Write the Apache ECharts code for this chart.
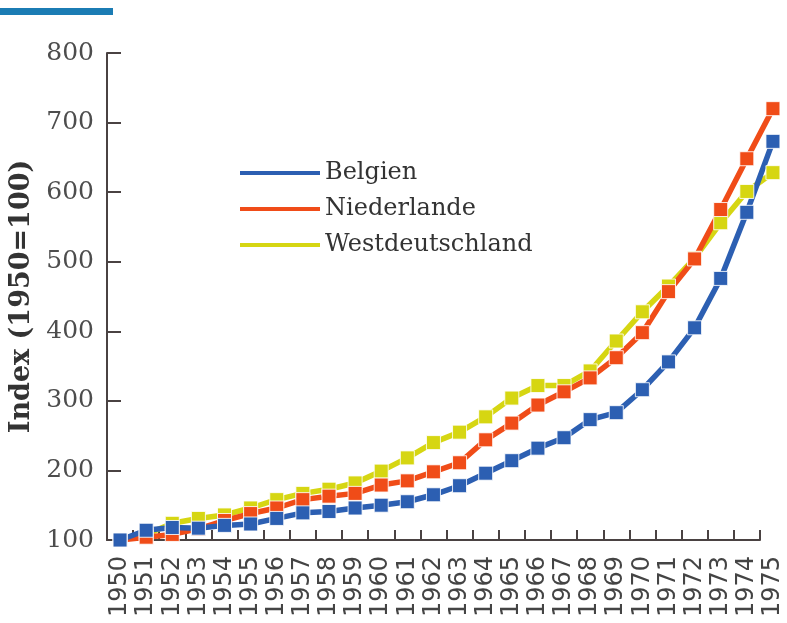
<!DOCTYPE html>
<html>
<head>
<meta charset="utf-8">
<script src="https://cdn.jsdelivr.net/npm/echarts@6/dist/echarts.min.js"></script>
<style>
html,body{margin:0;padding:0;background:#fff;}
#chart{width:787px;height:623px;}
</style>
</head>
<body>
<div id="chart"></div>
<script>
var years = ['1950','1951','1952','1953','1954','1955','1956','1957','1958','1959','1960','1961','1962','1963','1964','1965','1966','1967','1968','1969','1970','1971','1972','1973','1974','1975'];
var belgien = [100, 114, 118, 117, 121, 123, 131, 139, 141, 146, 150, 155, 165, 178, 196, 214, 232, 247, 273, 283, 316, 356, 405, 476, 571, 673];
var niederlande = [100, 104, 108, 116, 128, 138, 146, 158, 163, 167, 179, 185, 198, 211, 244, 268, 294, 313, 333, 362, 398, 457, 504, 575, 648, 720];
var westdeutschland = [100, 108, 124, 131, 136, 146, 158, 167, 173, 182, 199, 218, 240, 255, 277, 304, 322, 322, 343, 386, 428, 465, 505, 556, 601, 628];
var seriesNames = ['Belgien', 'Niederlande', 'Westdeutschland'];
var yTicks = {min: 100, max: 800, interval: 100};
var yTitle = 'Index (1950=100)';

var colors = {Belgien: '#2c5fb2', Niederlande: '#f04c18', Westdeutschland: '#d6d612'};
var axisColor = '#4a4242';

function mkSeries(name, data) {
  return {
    name: name,
    type: 'line',
    xAxisIndex: 0,
    yAxisIndex: 0,
    data: data,
    clip: false,
    symbol: 'rect',
    symbolSize: 14,
    lineStyle: {color: colors[name], width: 5.5},
    itemStyle: {color: colors[name], borderColor: 'rgba(255,255,255,0.85)', borderWidth: 1},
    emphasis: {disabled: true},
    animation: false
  };
}

var chart = echarts.init(document.getElementById('chart'), null, {renderer: 'canvas'});
chart.setOption({
  backgroundColor: '#ffffff',
  animation: false,
  graphic: [{
    type: 'rect',
    left: 0, top: 8,
    shape: {width: 113, height: 7},
    style: {fill: '#1b7cb4'}
  }],
  legend: {
    data: seriesNames,
    orient: 'vertical',
    left: 235,
    top: 156,
    icon: 'rect',
    itemWidth: 80,
    itemHeight: 4,
    itemGap: 12,
    itemStyle: {borderWidth: 0},
    textStyle: {fontFamily: 'DejaVu Serif', fontSize: 24, color: '#333'},
    selectedMode: false
  },
  grid: [
    {left: 107, top: 53, width: 679, height: 487},
    {left: 107, top: 53, width: 653, height: 487}
  ],
  xAxis: [{
    gridIndex: 0,
    type: 'category',
    data: years,
    boundaryGap: true,
    axisLine: {show: false},
    axisTick: {show: false},
    axisLabel: {
      interval: 0, rotate: 90, margin: 16,
      fontFamily: 'DejaVu Sans', fontSize: 24, color: '#444'
    }
  }, {
    gridIndex: 1,
    type: 'category',
    data: years.slice(0, years.length - 1),
    boundaryGap: true,
    axisLine: {show: true, lineStyle: {color: axisColor, width: 2}},
    axisTick: {show: true, inside: true, length: 10, interval: 0, lineStyle: {color: axisColor, width: 2}},
    axisLabel: {show: false}
  }],
  yAxis: [{
    gridIndex: 0,
    type: 'value',
    min: yTicks.min, max: yTicks.max, interval: yTicks.interval,
    name: yTitle,
    nameLocation: 'middle',
    nameGap: 67,
    nameTextStyle: {fontFamily: 'DejaVu Serif', fontWeight: 'bold', fontSize: 27, color: '#333'},
    axisLine: {show: true, lineStyle: {color: axisColor, width: 2}},
    axisTick: {show: true, inside: true, length: 14, lineStyle: {color: axisColor, width: 2}},
    splitLine: {show: false},
    axisLabel: {fontFamily: 'DejaVu Serif', fontSize: 25, color: '#4d4d4d', margin: 13}
  }, {
    gridIndex: 1,
    type: 'value',
    min: yTicks.min, max: yTicks.max, interval: yTicks.interval,
    show: false
  }],
  series: [
    mkSeries('Westdeutschland', westdeutschland),
    mkSeries('Niederlande', niederlande),
    mkSeries('Belgien', belgien)
  ]
});
</script>
</body>
</html>
